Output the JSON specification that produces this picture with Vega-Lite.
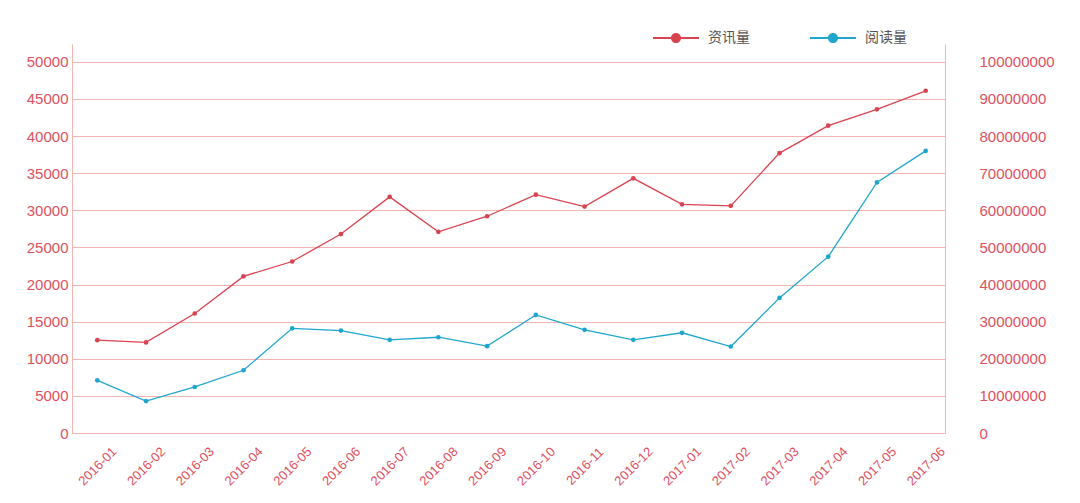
{
  "$schema": "https://vega.github.io/schema/vega-lite/v6.json",
  "width": 873,
  "height": 389,
  "autosize": "none",
  "padding": {"left": 72, "top": 44, "right": 135, "bottom": 70},
  "background": "white",
  "config": {
    "view": {"stroke": null},
    "font": "Liberation Sans",
    "axis": {
      "labelColor": "#e0505e",
      "domainColor": "#f2b3b3",
      "gridColor": "#f2b3b3",
      "ticks": false,
      "title": null,
      "labelFontSize": 15,
      "labelFont": "Liberation Sans"
    }
  },
  "data": {
    "values": [
      {"month": "2016-01", "news": 12500, "reads": 14200000},
      {"month": "2016-02", "news": 12200, "reads": 8600000},
      {"month": "2016-03", "news": 16100, "reads": 12400000},
      {"month": "2016-04", "news": 21100, "reads": 16900000},
      {"month": "2016-05", "news": 23100, "reads": 28200000},
      {"month": "2016-06", "news": 26800, "reads": 27600000},
      {"month": "2016-07", "news": 31800, "reads": 25100000},
      {"month": "2016-08", "news": 27100, "reads": 25800000},
      {"month": "2016-09", "news": 29200, "reads": 23400000},
      {"month": "2016-10", "news": 32100, "reads": 31800000},
      {"month": "2016-11", "news": 30500, "reads": 27800000},
      {"month": "2016-12", "news": 34300, "reads": 25100000},
      {"month": "2017-01", "news": 30800, "reads": 27000000},
      {"month": "2017-02", "news": 30600, "reads": 23300000},
      {"month": "2017-03", "news": 37700, "reads": 36400000},
      {"month": "2017-04", "news": 41400, "reads": 47500000},
      {"month": "2017-05", "news": 43600, "reads": 67500000},
      {"month": "2017-06", "news": 46100, "reads": 76000000}
    ]
  },
  "encoding": {
    "x": {
      "field": "month",
      "type": "ordinal",
      "scale": {"type": "point", "padding": 0.4577, "align": 0.567},
      "axis": {
        "labelAngle": -45,
        "labelAlign": "center",
        "labelBaseline": "middle",
        "labelPadding": 33,
        "labelFontSize": 13,
        "grid": false
      }
    },
    "color": {
      "scale": {"domain": ["资讯量", "阅读量"], "range": ["#d9434f", "#1fa6cf"]},
      "legend": {
        "orient": "none",
        "legendX": 581,
        "legendY": -29,
        "direction": "horizontal",
        "columns": 2,
        "columnPadding": 60,
        "title": null,
        "symbolType": "M-1,-0.045L1,-0.045L1,0.045L-1,0.045Z M0.22,0 A0.22,0.22 0 1,1 -0.22,0 A0.22,0.22 0 1,1 0.22,0 Z",
        "symbolSize": 2116,
        "symbolStrokeWidth": 0,
        "labelOffset": 9,
        "labelFont": "Noto Sans CJK SC",
        "labelFontSize": 14,
        "labelColor": "#555555",
        "encode": {
          "symbols": {
            "update": {
              "fill": {"scale": "color", "field": "value"},
              "stroke": {"value": "transparent"},
              "opacity": {"value": 1}
            }
          }
        }
      }
    }
  },
  "layer": [
    {
      "mark": {"type": "line", "strokeWidth": 1.3, "point": {"size": 22, "filled": true}},
      "encoding": {
        "y": {
          "field": "news",
          "type": "quantitative",
          "scale": {"domain": [0, 52400], "nice": false},
          "axis": {
            "values": [0, 5000, 10000, 15000, 20000, 25000, 30000, 35000, 40000, 45000, 50000],
            "format": "d",
            "labelPadding": 4,
            "grid": true
          }
        },
        "color": {"datum": "资讯量", "type": "nominal"}
      }
    },
    {
      "mark": {"type": "line", "strokeWidth": 1.3, "point": {"size": 22, "filled": true}},
      "encoding": {
        "y": {
          "field": "reads",
          "type": "quantitative",
          "scale": {"domain": [0, 104800000], "nice": false},
          "axis": {
            "orient": "right",
            "values": [0, 10000000, 20000000, 30000000, 40000000, 50000000, 60000000, 70000000, 80000000, 90000000, 100000000],
            "format": "d",
            "labelPadding": 34,
            "grid": false
          }
        },
        "color": {"datum": "阅读量", "type": "nominal"}
      }
    }
  ],
  "resolve": {"scale": {"y": "independent"}}
}
